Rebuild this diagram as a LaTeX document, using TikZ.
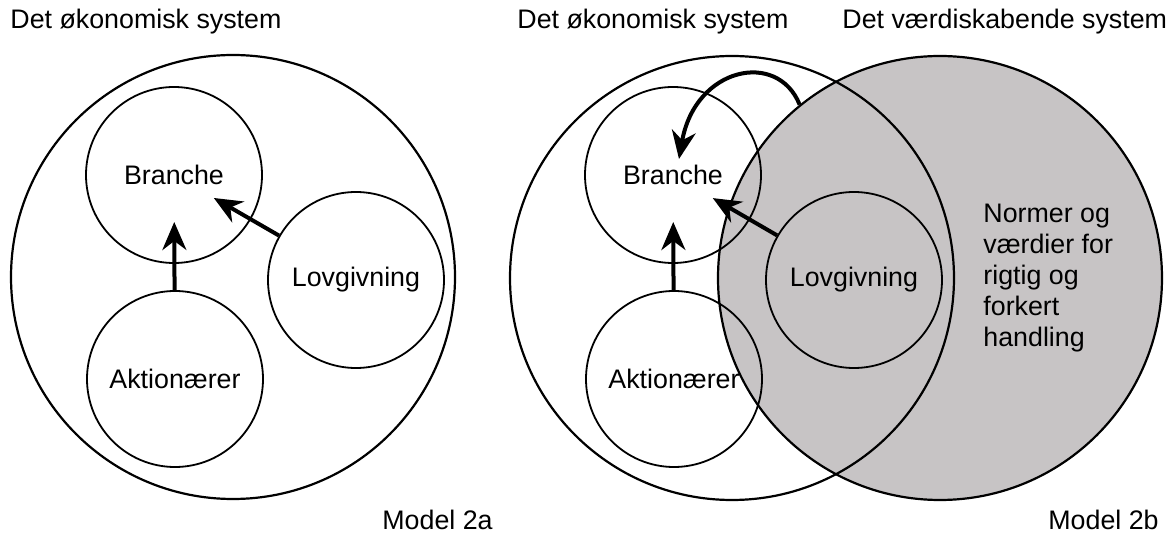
\documentclass[tikz,border=0pt]{standalone}
\usepackage{fontspec}
\setmainfont{Liberation Sans}
\usetikzlibrary{arrows.meta,calc}

\definecolor{valgray}{RGB}{199,196,197}

\tikzset{
  sysring/.style={circle, draw, line width=1.1pt, minimum size=222pt, inner sep=0pt},
  partring/.style={circle, draw, line width=0.9pt, minimum size=88pt, inner sep=0pt},
  arr/.style={-{Stealth[length=14pt,width=12pt,inset=4.5pt]}, line width=2pt},
  lbl/.style={anchor=base west, inner sep=0pt}
}

\begin{document}
\begin{tikzpicture}[x=0.5pt,y=0.5pt,font=\fontsize{13.4}{15.5}\selectfont]
\useasboundingbox (0,0) rectangle (1169,-545);

%model 2a
\node[sysring] (oekA) at (233,-277) {};
\node[partring] (brancheA) at (174,-175) {Branche};
\node[partring] (lovA) at (356,-280) {Lovgivning};
\node[partring] (aktA) at (175,-379) {Aktionærer};

\draw[arr] (aktA) -- ($(brancheA)!23.5pt!(aktA)$);
\draw[arr] (lovA) -- ($(brancheA)!23pt!(lovA)$);

\node[lbl] (titA) at (10,-29) {Det økonomisk system};
\node[lbl] (modA) at (382,-530) {Model 2a};

%model 2b
\node[sysring, fill=valgray] (vaerdi) at (940,-278) {};
\node[sysring] (oekB) at (732,-278) {};
\node[partring] (brancheB) at (673,-175) {Branche};
\node[partring] (lovB) at (854,-280) {Lovgivning};
\node[partring] (aktB) at (674,-379) {Aktionærer};

\draw[arr] (aktB) -- ($(brancheB)!23.5pt!(aktB)$);
\draw[arr] (lovB) -- ($(brancheB)!23pt!(lovB)$);

%curved arrow from the value system
\coordinate (tipB) at ($(brancheB)+(6,16)$);
\draw[arr] (vaerdi.129) .. controls +(-22,55) and +(16,92) .. (tipB);

\node[anchor=west, align=left, inner sep=0pt] (norm) at (983,-278)
  {Normer og\\værdier for\\rigtig og\\forkert\\handling};

\node[lbl] (titB) at (517,-29) {Det økonomisk system};
\node[lbl] (titC) at (842,-29) {Det værdiskabende system};
\node[lbl] (modB) at (1048,-530) {Model 2b};
\end{tikzpicture}
\end{document}
